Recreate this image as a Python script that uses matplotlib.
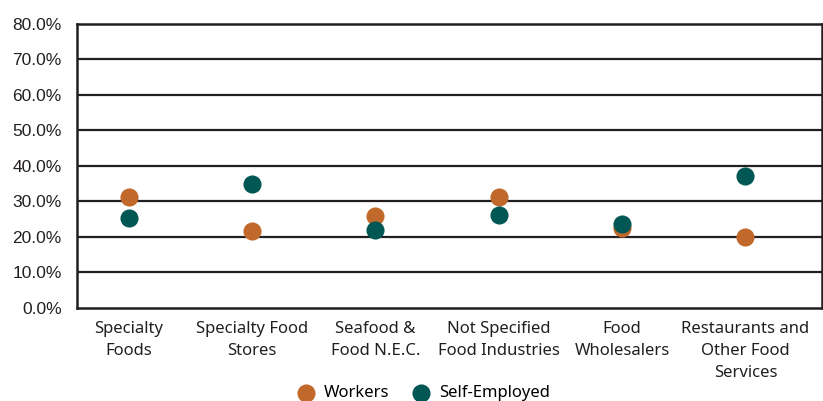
import matplotlib
matplotlib.use("Agg")
import matplotlib.pyplot as plt
from matplotlib.ticker import PercentFormatter

categories = ["Specialty\nFoods", "Specialty Food\nStores", "Seafood &\nFood N.E.C.",
              "Not Specified\nFood Industries", "Food\nWholesalers",
              "Restaurants and\nOther Food\nServices"]
workers = [31.3, 21.7, 25.8, 31.1, 22.4, 19.9]
self_employed = [25.2, 34.8, 21.9, 26.1, 23.6, 37.1]
yticks = [0, 10, 20, 30, 40, 50, 60, 70, 80]

orange = "#C0692B"
teal = "#005753"
line_col = "#231F20"

fig = plt.figure(figsize=(8.23, 4.01), dpi=100)
ax = fig.add_axes([0.0936, 0.233, 0.905, 0.707])

x = list(range(len(categories)))
ax.scatter(x, workers, s=170, color=orange, zorder=3, label="Workers", linewidths=0)
ax.scatter(x, self_employed, s=170, color=teal, zorder=4, label="Self-Employed", linewidths=0)

ax.set_ylim(0, 80)
ax.set_xlim(-0.42, 5.62)
ax.set_yticks(yticks)
ax.yaxis.set_major_formatter(PercentFormatter(decimals=1))
ax.set_xticks(x)
ax.set_xticklabels(categories, fontfamily="Noto Sans", fontsize=12, linespacing=1.5)
ax.tick_params(axis="both", length=0, colors="#231F20")
ax.tick_params(axis="y", pad=11, labelsize=12.5)
ax.tick_params(axis="x", pad=10)
for lab in ax.get_yticklabels():
    lab.set_fontfamily("Liberation Sans")

for t in yticks[1:-1]:
    ax.axhline(t, color=line_col, lw=1.6, zorder=1)
for s in ax.spines.values():
    s.set_color(line_col)
    s.set_linewidth(1.8)

leg = fig.legend(loc="lower center", bbox_to_anchor=(0.51, -0.038), ncol=2, frameon=False,
                 prop={"family": "Noto Sans", "size": 12}, handletextpad=0.1,
                 columnspacing=0.9, markerscale=1.0)

fig.savefig("out.png", dpi=100)
